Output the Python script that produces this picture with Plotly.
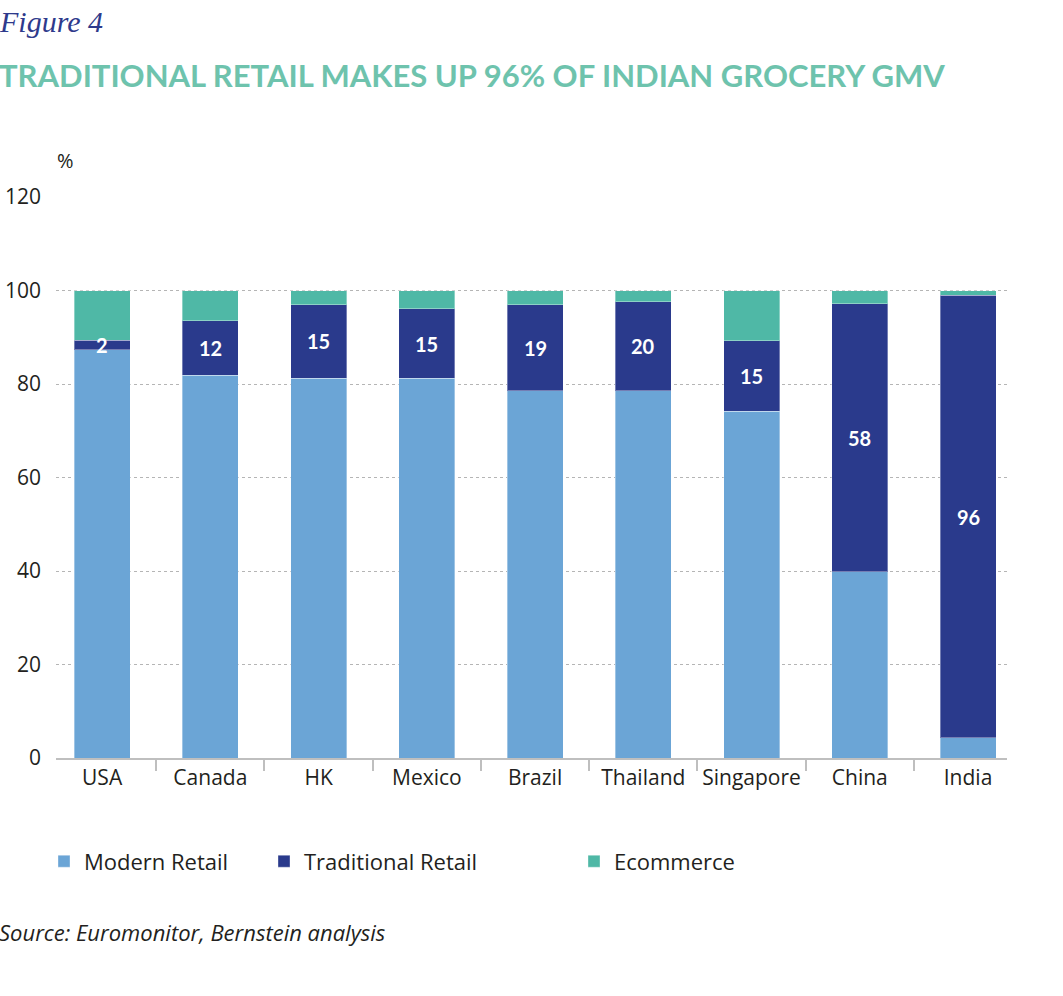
import plotly.graph_objects as go

categories = ["USA", "Canada", "HK", "Mexico", "Brazil", "Thailand", "Singapore", "China", "India"]
modern_retail = [87.3, 81.9, 81.2, 81.2, 78.6, 78.6, 74.2, 39.8, 4.3]
traditional_retail = [2.1, 11.6, 15.8, 14.9, 18.3, 19.0, 15.1, 57.4, 94.7]
ecommerce = [10.6, 6.5, 3.0, 3.9, 3.1, 2.4, 10.7, 2.8, 1.0]
traditional_labels = ["2", "12", "15", "15", "19", "20", "15", "58", "96"]
y_ticks = [0, 20, 40, 60, 80, 100, 120]

C_MODERN = "#6BA5D6"
C_TRAD = "#2A3A8C"
C_ECOM = "#4FB8A6"
TEXT = "#231F20"
FONT = "Open Sans"

W, H = 1063, 996
L, R, T, B = 56, 56, 197, 237.5
pw, ph = W - L - R, H - T - B

def px_x(x):
    return (x - L) / pw

def px_y(y):
    return (H - B - y) / ph

outline = dict(color="rgba(255,255,255,0.35)", width=1)

fig = go.Figure()
fig.add_trace(go.Bar(x=categories, y=modern_retail, name="Modern Retail",
                     marker=dict(color=C_MODERN, line=outline), legend="legend"))
fig.add_trace(go.Bar(x=categories, y=traditional_retail, name="Traditional Retail",
                     marker=dict(color=C_TRAD, line=outline), legend="legend2"))
fig.add_trace(go.Bar(x=categories, y=ecommerce, name="Ecommerce",
                     marker=dict(color=C_ECOM, line=outline), legend="legend3"))

for c, m, t, lab in zip(categories, modern_retail, traditional_retail, traditional_labels):
    fig.add_annotation(x=c, y=m + t / 2, xref="x", yref="y", text="<b>" + lab + "</b>",
                       showarrow=False, font=dict(family="Lato", size=20, color="white"))

ann = [
    dict(text="<i>Figure 4</i>", x=px_x(-3), y=px_y(21), size=30, color="#2E3A8C",
         family="Liberation Serif"),
    dict(text="<b>TRADITIONAL RETAIL MAKES UP 96% OF INDIAN GROCERY GMV</b>", x=px_x(-3), y=px_y(75),
         size=31, color="#6EC3AD", family="Lato"),
    dict(text="%", x=px_x(55), y=px_y(160), size=20, color=TEXT, family=FONT),
    dict(text="<i>Source: Euromonitor, Bernstein analysis</i>", x=px_x(-3), y=px_y(933),
         size=22, color=TEXT, family=FONT),
]
for a in ann:
    fig.add_annotation(text=a["text"], x=a["x"], y=a["y"], xref="paper", yref="paper",
                       xanchor="left", yanchor="middle", showarrow=False,
                       font=dict(family=a["family"], size=a["size"], color=a["color"]))

leg_common = dict(orientation="h", xanchor="left", yanchor="middle", y=px_y(862),
                  bgcolor="rgba(0,0,0,0)", borderwidth=0,
                  font=dict(family=FONT, size=22, color=TEXT))

fig.update_layout(
    width=W, height=H,
    margin=dict(l=L, r=R, t=T, b=B, autoexpand=False),
    paper_bgcolor="white", plot_bgcolor="white",
    barmode="stack", bargap=0.483,
    font=dict(family=FONT, size=20, color=TEXT),
    legend=dict(x=px_x(44), **leg_common),
    legend2=dict(x=px_x(264), **leg_common),
    legend3=dict(x=px_x(574), **leg_common),
    xaxis=dict(range=[-0.426, 8.36], showline=True, linecolor="#BFBFBF", linewidth=2,
               ticks="outside", tickson="boundaries", ticklen=11, tickcolor="#BFBFBF",
               tickwidth=1.5, showgrid=False, tickangle=0, automargin=False,
               tickfont=dict(family=FONT, size=21, color=TEXT), fixedrange=True),
    yaxis=dict(range=[0, 120], tickvals=y_ticks, showgrid=True, gridcolor="#B5B5B5",
               griddash="dot", gridwidth=1, zeroline=False, showline=False, ticks="",
               ticklabelstandoff=14, automargin=False,
               tickfont=dict(family=FONT, size=21, color=TEXT), fixedrange=True),
    showlegend=True,
)

fig.write_html("out.html", config={"displayModeBar": False},
               post_script="document.body.style.margin='0';document.body.style.overflow='hidden';")
